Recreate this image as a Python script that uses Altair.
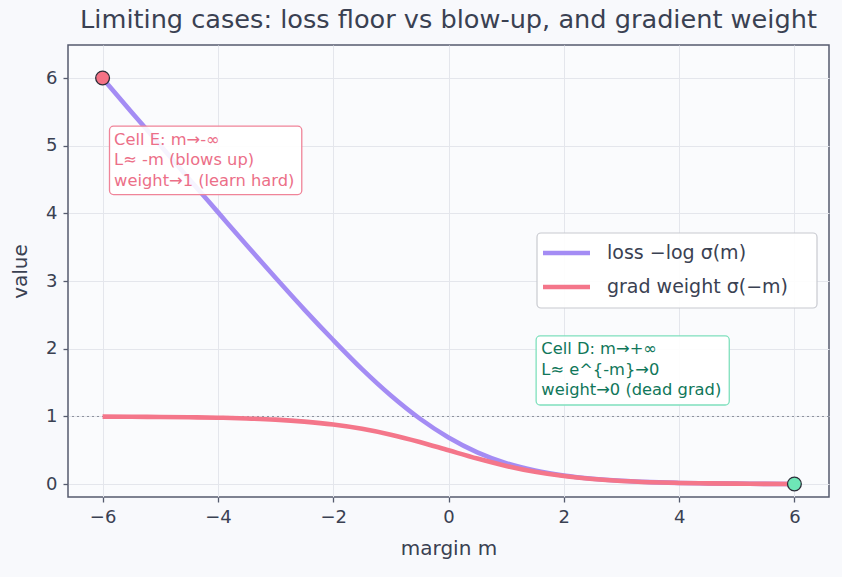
import altair as alt
import pandas as pd

# ---- data ----
margin = [-6.0, -5.5, -5.0, -4.5, -4.0, -3.5, -3.0, -2.5, -2.0, -1.5, -1.0, -0.5,
          0.0, 0.5, 1.0, 1.5, 2.0, 2.5, 3.0, 3.5, 4.0, 4.5, 5.0, 5.5, 6.0]
loss = [6.00, 5.50, 5.01, 4.51, 4.02, 3.53, 3.05, 2.58, 2.13, 1.70, 1.31, 0.97,
        0.69, 0.47, 0.31, 0.20, 0.127, 0.079, 0.049, 0.030, 0.018, 0.011, 0.007, 0.004, 0.0025]
grad_weight = [0.998, 0.996, 0.993, 0.989, 0.982, 0.971, 0.953, 0.924, 0.881, 0.818, 0.731, 0.623,
               0.50, 0.378, 0.269, 0.182, 0.119, 0.076, 0.047, 0.029, 0.018, 0.011, 0.007, 0.004, 0.0025]

series_names = ["loss −log σ(m)", "grad weight σ(−m)"]
series_colors = ["#a48cf4", "#f4768a"]

end_m = [-6.0, 6.0]
end_v = [6.0025, 0.0025]
end_fill = ["#f47285", "#6ee7b7"]

ann_x = [-5.80, 1.61]
ann_y_top = [5.09, 1.99]
ann_box_x = [-5.88, 1.52]
ann_box_x2 = [-2.545, 4.87]
ann_box_y = [5.29, 2.19]
ann_box_y2 = [4.28, 1.17]
ann_lines = [["Cell E: m→-∞", "L≈ -m (blows up)", "weight→1 (learn hard)"],
             ["Cell D: m→+∞", "L≈ e^{-m}→0", "weight→0 (dead grad)"]]
ann_text_color = ["#ec6f88", "#11775a"]
ann_border = ["#f08499", "#7fe0bd"]

ref_level = [1.0]

# ---- build tables ----
rows = []
for name, vals in zip(series_names, [loss, grad_weight]):
    for m, v in zip(margin, vals):
        rows.append({"m": m, "v": v, "series": name})
df = pd.DataFrame(rows)

df_end = pd.DataFrame({"m": end_m, "v": end_v, "fill": end_fill})
df_ann = pd.DataFrame({"x": ann_x, "y": ann_y_top, "bx": ann_box_x, "bx2": ann_box_x2,
                       "by": ann_box_y, "by2": ann_box_y2, "lines": ann_lines,
                       "tc": ann_text_color, "bc": ann_border})
df_ref = pd.DataFrame({"y": ref_level})
one = pd.DataFrame({"k": [0]})

xs = alt.Scale(domain=[-6.6, 6.6], nice=False, zero=False)
ys = alt.Scale(domain=[-0.19, 6.49], nice=False, zero=False)

X = alt.X("m:Q", scale=xs, title="margin m",
          axis=alt.Axis(values=[-6, -4, -2, 0, 2, 4, 6], format="d"))
Y = alt.Y("v:Q", scale=ys, title="value",
          axis=alt.Axis(values=[0, 1, 2, 3, 4, 5, 6], format="d"))

ref = alt.Chart(df_ref).mark_rule(color="#8a8f9c", strokeDash=[2, 3], strokeWidth=1).encode(
    y=alt.Y("y:Q", scale=ys))

layers = [ref]
# draw loss first, grad weight on top
for name, col in zip(series_names, series_colors):
    layers.append(
        alt.Chart(df[df.series == name]).mark_line(strokeWidth=4.6, interpolate="monotone", color=col)
        .encode(x=X, y=Y)
    )

ends = alt.Chart(df_end).mark_point(filled=True, size=190, stroke="#2d2f3a", strokeWidth=1.3, opacity=1).encode(
    x=alt.X("m:Q", scale=xs), y=alt.Y("v:Q", scale=ys),
    fill=alt.Fill("fill:N", scale=None))

boxes = alt.Chart(df_ann).mark_rect(cornerRadius=4, fill="#ffffff", fillOpacity=0.9, strokeWidth=1.3).encode(
    x=alt.X("bx:Q", scale=xs), x2="bx2:Q",
    y=alt.Y("by:Q", scale=ys), y2="by2:Q",
    stroke=alt.Stroke("bc:N", scale=None))

texts = alt.Chart(df_ann).mark_text(align="left", baseline="middle", fontSize=16.3, lineHeight=20.5,
                                    font="DejaVu Sans").encode(
    x=alt.X("x:Q", scale=xs), y=alt.Y("y:Q", scale=ys),
    text="lines", color=alt.Color("tc:N", scale=None))

layers += [ends, boxes, texts]

# ---- legend (drawn by hand, inside the plot) ----
leg_box = alt.Chart(one).mark_rect(cornerRadius=4, fill="#ffffff", fillOpacity=0.9,
                                   stroke="#c8cad0", strokeWidth=1.2).encode(
    x=alt.value(469), x2=alt.value(749), y=alt.value(188), y2=alt.value(263))
layers.append(leg_box)
for i, (name, col) in enumerate(zip(series_names, series_colors)):
    yy = 208 + 34 * i
    layers.append(alt.Chart(one).mark_rule(color=col, strokeWidth=4.6).encode(
        x=alt.value(475), x2=alt.value(522), y=alt.value(yy)))
    layers.append(alt.Chart(one).mark_text(text=name, align="left", baseline="middle",
                                           fontSize=19, font="DejaVu Sans", color="#3a4152").encode(
        x=alt.value(539), y=alt.value(yy)))

chart = alt.layer(*layers).properties(
    width=761, height=452,
    title=alt.TitleParams("Limiting cases: loss floor vs blow-up, and gradient weight",
                          fontSize=25.6, font="DejaVu Sans", fontWeight="normal",
                          color="#3a4152", anchor="middle", offset=11),
    padding={"left": 68, "top": 45, "right": 13, "bottom": 80},
    autosize=alt.AutoSizeParams(type="none"),
    background="#f8f9fc",
).configure_view(
    stroke="#555b6e", strokeWidth=1.5, fill="#fafbfd"
).configure_axis(
    labelFont="DejaVu Sans", titleFont="DejaVu Sans", labelFontSize=18, titleFontSize=20,
    labelColor="#3a4152", titleColor="#3a4152", titleFontWeight="normal",
    grid=True, gridColor="#e4e6ec", gridWidth=1, domain=False,
    tickColor="#555b6e", tickSize=5, tickWidth=1.3, labelPadding=6,
).configure_axisX(titlePadding=12).configure_axisY(titlePadding=15)

chart.save("out.html", embed_options={"renderer": "svg", "actions": False})
